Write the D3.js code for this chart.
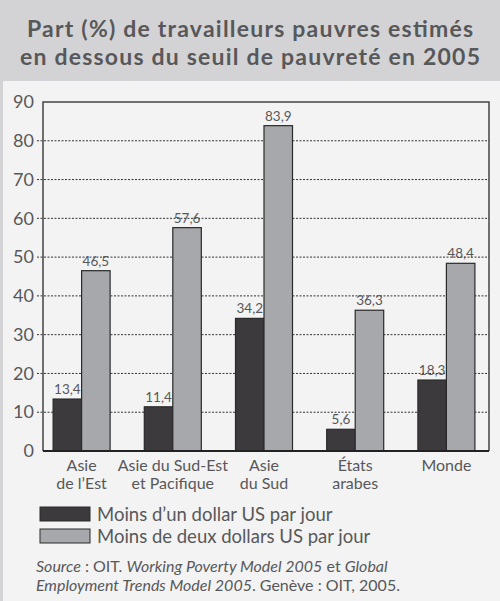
<!DOCTYPE html>
<html>
<head>
<meta charset="utf-8">
<script src="https://cdn.jsdelivr.net/npm/d3@7"></script>
<style>
  body { margin: 0; background: #f3f3f3; }
  svg { display: block; }
</style>
</head>
<body>
<svg id="chart" width="500" height="601"></svg>
<script>
var categories = [["Asie", "de l\u2019Est"], ["Asie du Sud-Est", "et Pacifique"], ["Asie", "du Sud"], ["\u00c9tats", "arabes"], ["Monde"]];
var seriesNames = ["Moins d\u2019un dollar US par jour", "Moins de deux dollars US par jour"];
var oneDollar = [13.4, 11.4, 34.2, 5.6, 18.3];
var twoDollars = [46.5, 57.6, 83.9, 36.3, 48.4];
var yTicks = [0, 10, 20, 30, 40, 50, 60, 70, 80, 90];

var colors = ["#3d3a3d", "#a7a8ab"],
	textColor = "#58585a",
	font = "Lato, 'Open Sans', sans-serif";

var svg = d3.select("#chart");

// background panels
svg.append("rect").attr("x", 0).attr("y", 0).attr("width", 500).attr("height", 601).attr("fill", "#d3d3d5");
svg.append("rect").attr("x", 3).attr("y", 81).attr("width", 497).attr("height", 520).attr("fill", "#f3f3f3");

// title
var title = svg.append("text")
	.attr("text-anchor", "middle")
	.attr("fill", textColor)
	.attr("font-family", font)
	.attr("font-weight", "bold")
	.attr("font-size", 23);
title.append("tspan").attr("x", 250).attr("y", 37).attr("textLength", 446).text("Part (%) de travailleurs pauvres estimés");
title.append("tspan").attr("x", 250).attr("y", 65).attr("textLength", 460).text("en dessous du seuil de pauvreté en 2005");

var plotLeft = 43, plotRight = 489, plotTop = 102, plotBottom = 451;

var data = categories.map(function(c, i) {
	return { label: c, values: [oneDollar[i], twoDollars[i]] };
});

var x0 = d3.scaleBand().domain(d3.range(categories.length)).range([36, 492]).paddingInner(0.375).paddingOuter(0.1875),
	x1 = d3.scaleBand().domain([0, 1]).range([0, x0.bandwidth()]),
	y = d3.scaleLinear().domain([0, 90]).range([plotBottom, plotTop]);

// grid lines
svg.append("g")
	.selectAll("line")
	.data(yTicks.filter(function(t) { return t > 0 && t < 90; }))
	.enter().append("line")
	.attr("x1", plotLeft - 6)
	.attr("x2", plotRight)
	.attr("y1", function(d) { return y(d); })
	.attr("y2", function(d) { return y(d); })
	.attr("stroke", "#333")
	.attr("stroke-width", 1)
	.attr("stroke-dasharray", "2,1.5");

// y axis labels
var yAxis = svg.append("g")
	.attr("transform", "translate(" + plotLeft + ",0)")
	.call(d3.axisLeft(y).tickValues(yTicks).tickSize(0).tickPadding(9));
yAxis.select(".domain").remove();
yAxis.selectAll("text")
	.attr("fill", textColor)
	.attr("font-family", font)
	.attr("font-size", 18);

// bars
var groups = svg.append("g")
	.selectAll("g")
	.data(data)
	.enter().append("g")
	.attr("transform", function(d, i) { return "translate(" + x0(i) + ",0)"; });

groups.selectAll("rect")
	.data(function(d) { return d.values; })
	.enter().append("rect")
	.attr("x", function(d, i) { return x1(i); })
	.attr("width", x1.bandwidth())
	.attr("y", function(d) { return y(d); })
	.attr("height", function(d) { return plotBottom - y(d); })
	.attr("fill", function(d, i) { return colors[i]; })
	.attr("stroke", "#2a2a2a")
	.attr("stroke-width", 1.2);

groups.selectAll(".val")
	.data(function(d) { return d.values; })
	.enter().append("text")
	.attr("class", "val")
	.attr("x", function(d, i) { return x1(i) + x1.bandwidth() / 2; })
	.attr("y", function(d) { return y(d) - 5; })
	.attr("text-anchor", "middle")
	.attr("fill", textColor)
	.attr("font-family", font)
	.attr("font-size", 13.5)
	.text(function(d) { return d3.format(".1f")(d).replace(".", ","); });

// frame
svg.append("path")
	.attr("d", "M" + plotLeft + "," + plotBottom + "V" + plotTop + "H" + plotRight + "V" + plotBottom)
	.attr("fill", "none")
	.attr("stroke", "#444")
	.attr("stroke-width", 1.5);
svg.append("line")
	.attr("x1", plotLeft).attr("x2", plotRight)
	.attr("y1", plotBottom).attr("y2", plotBottom)
	.attr("stroke", "#222")
	.attr("stroke-width", 2);

// category labels, one text per line
svg.append("g")
	.selectAll("text")
	.data(d3.merge(data.map(function(d, i) {
		return d.label.map(function(l, j) { return { text: l, i: i, line: j }; });
	})))
	.enter().append("text")
	.attr("text-anchor", "middle")
	.attr("fill", textColor)
	.attr("font-family", font)
	.attr("font-size", 16)
	.attr("x", function(d) { return x0(d.i) + x0.bandwidth() / 2; })
	.attr("y", function(d) { return 471 + d.line * 18; })
	.text(function(d) { return d.text; });

// legend
var legend = svg.append("g")
	.selectAll("g")
	.data(seriesNames)
	.enter().append("g")
	.attr("transform", function(d, i) { return "translate(40," + (507 + i * 22) + ")"; });
legend.append("rect")
	.attr("width", 50).attr("height", 14)
	.attr("fill", function(d, i) { return colors[i]; })
	.attr("stroke", "#2a2a2a")
	.attr("stroke-width", 1);
legend.append("text")
	.attr("x", 57).attr("y", 14)
	.attr("fill", textColor)
	.attr("font-family", font)
	.attr("font-size", 18.5)
	.text(function(d) { return d; });

// source
var src = svg.append("text")
	.attr("fill", textColor)
	.attr("font-family", font)
	.attr("font-size", 16);
var l1 = src.append("tspan").attr("x", 36).attr("y", 572);
l1.append("tspan").attr("font-style", "italic").text("Source");
l1.append("tspan").text(" : OIT. ");
l1.append("tspan").attr("font-style", "italic").text("Working Poverty Model 2005");
l1.append("tspan").text(" et ");
l1.append("tspan").attr("font-style", "italic").text("Global");
var l2 = src.append("tspan").attr("x", 36).attr("y", 591);
l2.append("tspan").attr("font-style", "italic").text("Employment Trends Model 2005");
l2.append("tspan").text(". Genève : OIT, 2005.");
</script>
</body>
</html>
